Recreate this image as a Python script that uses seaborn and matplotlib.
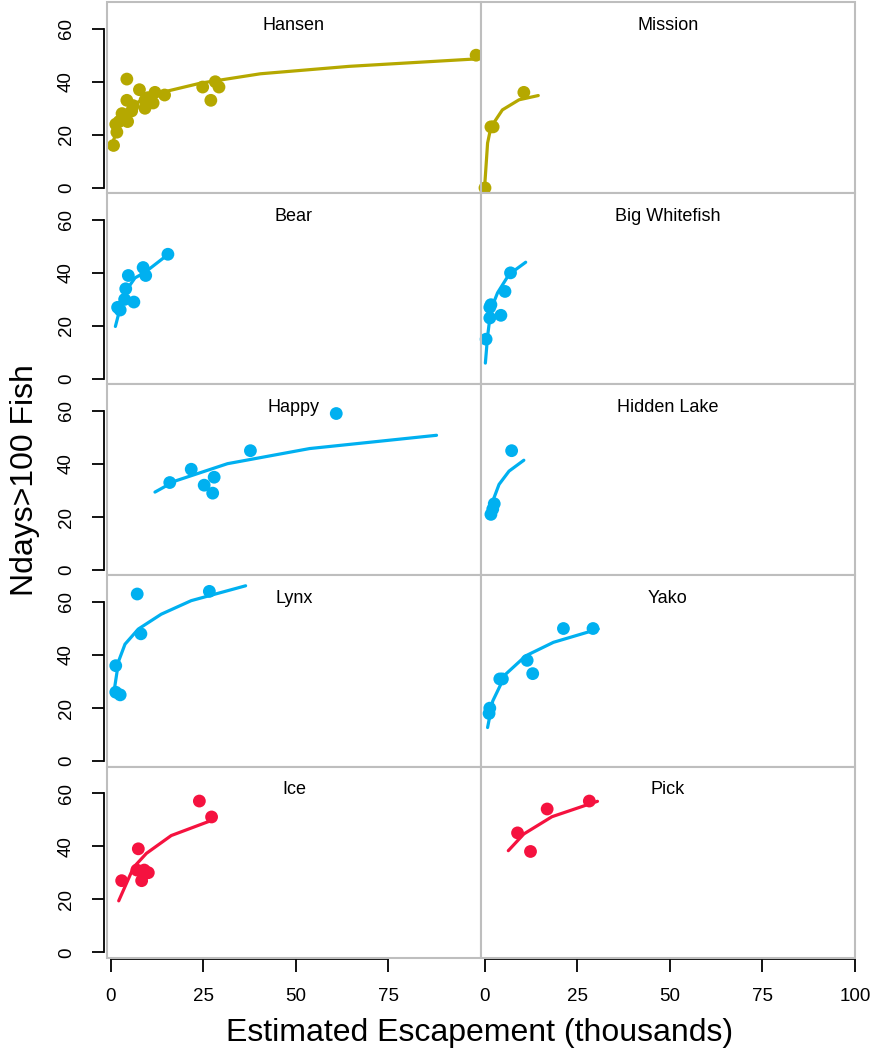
import numpy as np
import pandas as pd
import seaborn as sns
import matplotlib.pyplot as plt
from matplotlib.patches import Rectangle

sns.set_style('ticks', {'text.color': 'black', 'xtick.color': 'black',
                        'ytick.color': 'black', 'axes.labelcolor': 'black'})
plt.rcParams['font.family'] = ['Liberation Sans', 'DejaVu Sans']

olive = '#b5a800'
blue = '#00b0f0'
red = '#f5123f'

lakes = ['Hansen', 'Mission', 'Bear', 'Big Whitefish', 'Happy',
         'Hidden Lake', 'Lynx', 'Yako', 'Ice', 'Pick']
lake_colors = [olive, olive, blue, blue, blue, blue, blue, blue, red, red]

# observed points (escapement in thousands, days > 100 fish)
hansen_x = [0.7, 1.6, 1.3, 3.0, 4.5, 4.3, 4.3, 5.6, 7.7, 9.2, 9.2, 11.4, 11.9,
            14.5, 24.8, 27.0, 28.2, 29.2, 98.7, 2.2, 6.0, 10.0]
hansen_y = [16, 21, 24, 28, 25, 33, 41, 29, 37, 30, 33, 32, 36,
            35, 38, 33, 40, 38, 50, 25, 31, 34]
mission_x = [0.0, 1.6, 2.2, 10.5]
mission_y = [0, 23, 23, 36]
bear_x = [1.8, 2.5, 3.7, 6.2, 4.0, 4.7, 8.7, 9.4, 15.4]
bear_y = [27, 26, 30, 29, 34, 39, 42, 39, 47]
bigwhite_x = [0.3, 1.3, 1.6, 1.3, 4.3, 5.4, 6.9]
bigwhite_y = [15, 23, 28, 27, 24, 33, 40]
happy_x = [15.9, 21.7, 25.2, 27.9, 27.5, 37.7, 60.9]
happy_y = [33, 38, 32, 35, 29, 45, 59]
hidden_x = [1.6, 2.1, 2.5, 7.2]
hidden_y = [21, 23, 25, 45]
lynx_x = [1.3, 2.5, 1.3, 8.1, 7.1, 26.6]
lynx_y = [26, 25, 36, 48, 63, 64]
yako_x = [1.1, 1.3, 4.0, 4.7, 11.4, 12.9, 21.2, 29.2]
yako_y = [18, 20, 31, 31, 38, 33, 50, 50]
ice_x = [2.9, 7.4, 7.0, 8.3, 10.1, 23.9, 27.2, 9.0]
ice_y = [27, 39, 31, 27, 30, 57, 51, 31]
pick_x = [8.8, 12.3, 16.8, 28.2]
pick_y = [45, 38, 54, 57]

# fitted curves
hansen_fx = [0.7, 3.0, 6.0, 12.3, 24.3, 40.4, 64.4, 98.7]
hansen_fy = [18, 27, 31.5, 35.5, 39.5, 43, 45.8, 48.6]
mission_fx = [0.0, 0.7, 1.6, 4.7, 9.2, 14.4]
mission_fy = [2.4, 16.9, 22.9, 29.4, 33.2, 34.8]
bear_fx = [1.2, 2.5, 4.3, 6.5, 9.2, 15.4]
bear_fy = [19.8, 26.8, 33.7, 38.1, 40.2, 46.9]
bigwhite_fx = [0.1, 0.7, 1.6, 3.4, 6.5, 11.0]
bigwhite_fy = [6, 16.1, 26.2, 32.5, 39.4, 44]
happy_fx = [11.9, 17.2, 31.5, 53.7, 88.0]
happy_fy = [29.4, 33.5, 40.1, 45.8, 50.8]
hidden_fx = [1.6, 2.1, 3.8, 6.5, 10.5]
hidden_fy = [23, 26, 32.3, 37.3, 41.4]
lynx_fx = [1.0, 2.1, 3.8, 7.4, 13.6, 21.7, 36.4]
lynx_fy = [27.8, 37.8, 44.1, 49.8, 55.4, 60.5, 66.1]
yako_fx = [0.7, 2.1, 5.6, 11.0, 18.5, 30.6]
yako_fy = [12.7, 22.7, 32.8, 39.7, 44.8, 49.8]
ice_fx = [2.1, 6.1, 9.6, 16.3, 27.0]
ice_fy = [19.4, 32, 37.3, 44, 49.6]
pick_fx = [6.3, 10.5, 18.1, 30.4]
pick_fy = [38.3, 44.6, 51.1, 56.9]

pts = [(hansen_x, hansen_y), (mission_x, mission_y), (bear_x, bear_y),
       (bigwhite_x, bigwhite_y), (happy_x, happy_y), (hidden_x, hidden_y),
       (lynx_x, lynx_y), (yako_x, yako_y), (ice_x, ice_y), (pick_x, pick_y)]
fits = [(hansen_fx, hansen_fy), (mission_fx, mission_fy), (bear_fx, bear_fy),
        (bigwhite_fx, bigwhite_fy), (happy_fx, happy_fy), (hidden_fx, hidden_fy),
        (lynx_fx, lynx_fy), (yako_fx, yako_fy), (ice_fx, ice_fy), (pick_fx, pick_fy)]

points = pd.concat([pd.DataFrame({'lake': l, 'esc': x, 'days': y})
                    for l, (x, y) in zip(lakes, pts)])
curves = pd.concat([pd.DataFrame({'lake': l, 'esc': x, 'days': y})
                    for l, (x, y) in zip(lakes, fits)])

fig, axes = plt.subplots(5, 2, figsize=(8.76, 10.57), dpi=100)
fig.subplots_adjust(left=0.122, right=0.976, top=0.998, bottom=0.094,
                    wspace=0, hspace=0)

for i, (ax, lake, col) in enumerate(zip(axes.flat, lakes, lake_colors)):
    r, c = divmod(i, 2)
    sns.lineplot(data=curves[curves.lake == lake], x='esc', y='days', sort=False,
                 estimator=None, color=col, lw=2.3, ax=ax, legend=False)
    sns.scatterplot(data=points[points.lake == lake], x='esc', y='days',
                    color=col, s=85, edgecolor='none', ax=ax, legend=False,
                    clip_on=False, zorder=3)
    ax.set_xlim(-1.1, 100)
    ax.set_ylim(-2, 70)
    ax.set_xlabel('')
    ax.set_ylabel('')
    ax.text(0.5, 0.88, lake, transform=ax.transAxes, ha='center', va='center',
            fontsize=13, color='black')
    for s in ax.spines.values():
        s.set_visible(False)
    ax.add_patch(Rectangle((0, 0), 1, 1, transform=ax.transAxes, fill=False,
                           edgecolor='#bebebe', lw=1.5, clip_on=False, zorder=5))
    ax.tick_params(direction='out', length=9, width=1.3, color='black',
                   labelcolor='black', labelsize=13.5, pad=12,
                   bottom=(r == 4), left=(c == 0), top=False, right=False)
    if c == 0:
        ax.set_yticks([0, 20, 40, 60])
        ax.spines['left'].set_visible(True)
        ax.spines['left'].set_bounds(0, 60)
        ax.spines['left'].set_position(('outward', 2))
        ax.spines['left'].set_color('black')
        ax.spines['left'].set_linewidth(1.3)
        for t in ax.get_yticklabels():
            t.set_rotation(90)
            t.set_va('center')
    else:
        ax.set_yticks([])
    if r == 4:
        xt = [0, 25, 50, 75] if c == 0 else [0, 25, 50, 75, 100]
        ax.set_xticks(xt)
        ax.spines['bottom'].set_visible(True)
        ax.spines['bottom'].set_bounds(xt[0], xt[-1])
        ax.spines['bottom'].set_position(('outward', 1))
        ax.spines['bottom'].set_color('black')
        ax.spines['bottom'].set_linewidth(1.3)
    else:
        ax.set_xticks([])

fig.text(0.548, 0.023, 'Estimated Escapement (thousands)', ha='center',
         va='center', fontsize=23, color='black')
fig.text(0.029, 0.546, 'Ndays>100 Fish', ha='center', va='center',
         rotation=90, fontsize=23, color='black')

fig.savefig('out.png', dpi=100)
